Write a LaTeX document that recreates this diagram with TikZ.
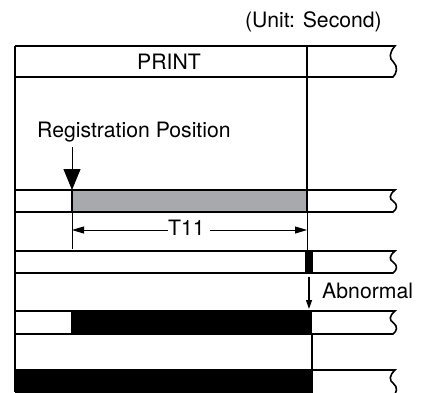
\documentclass[tikz,border=0pt]{standalone}
\usepackage{fontspec}
\setmainfont{TeX Gyre Heros}
\usepackage{xcolor}
\definecolor{barg}{HTML}{A7A9AC}
\usepackage{tikz}
\usetikzlibrary{arrows.meta,calc}

% one row of the chart, open at the right with a break mark
\newcommand{\rowbox}[3][]{%
  \draw[rowline,#1] (15,#2) -- (395,#2)
    .. controls (389,{#2+0.22*(#3-#2)}) and (389,{#2+0.4*(#3-#2)}) .. (393.5,{#2+0.52*(#3-#2)})
    .. controls (398,{#2+0.66*(#3-#2)}) and (397,{#2+0.88*(#3-#2)}) .. (393,#3)
    -- (15,#3);}

\begin{document}
\begin{tikzpicture}[x=1pt,y=-1pt,
  lbl/.style={font=\fontsize{21.2}{25}\selectfont,inner sep=0pt},
  rowline/.style={line width=1.6pt,line join=miter},
  sepline/.style={line width=1.3pt},
  dimline/.style={line width=0.9pt},
  regarrow/.style={-{Triangle[width=17pt,length=21pt]},line width=1pt},
  dimarrow/.style={-{Triangle[width=7pt,length=12pt]},line width=0.9pt},
  abnarrow/.style={-{Triangle[width=6pt,length=9pt]},line width=1.2pt},
  barfill/.style={fill=barg,draw=black,line width=1.6pt}
]
\clip (0,0) rectangle (421,392);

% Titulos
\node[lbl,anchor=base east] (unit) at (382,27.5) {(Unit: Second)};
\node[lbl,anchor=base] (print) at (169,69) {PRINT};
\node[lbl,anchor=base west] (regpos) at (37,137) {Registration Position};

% Barras
\filldraw[barfill] (72,190) rectangle (307,212);
\fill (305,251) rectangle (313,273);
\fill (71,311) rectangle (312,334);
\fill (15,370) rectangle (313,396);

% Filas
\rowbox{46}{77}
\rowbox{190}{212}
\rowbox{251}{273}
\rowbox{311}{334}
\rowbox{370}{396}
\draw[line width=2pt] (15,46) -- (15,392);

% Lineas verticales
\draw[sepline] (307,46) -- (307,190);
\draw[sepline] (312,335) -- (312,369);
\draw[dimline] (72,212) -- (72,249);
\draw[dimline] (307,212) -- (307,250);

% Posicion de registro
\coordinate (regtop) at (72,147);
\coordinate (regx) at (72,190);
\draw[regarrow] (regtop) -- (regx);

% T11
\coordinate (dimL) at (72,230);
\coordinate (dimR) at (307,230);
\node[lbl,anchor=base west] (t11) at (168,235) {T11};
\draw[dimarrow] (t11.west |- dimL) -- (dimL);
\draw[dimarrow,shorten <=5pt] (t11.east |- dimR) -- (dimR);

% Anormal
\coordinate (abntop) at (309,277);
\coordinate (abnbot) at (309,309);
\node[lbl,anchor=base west] (abn) at (322,298) {Abnormal};
\draw[abnarrow] (abntop) -- (abnbot);

\end{tikzpicture}
\end{document}
